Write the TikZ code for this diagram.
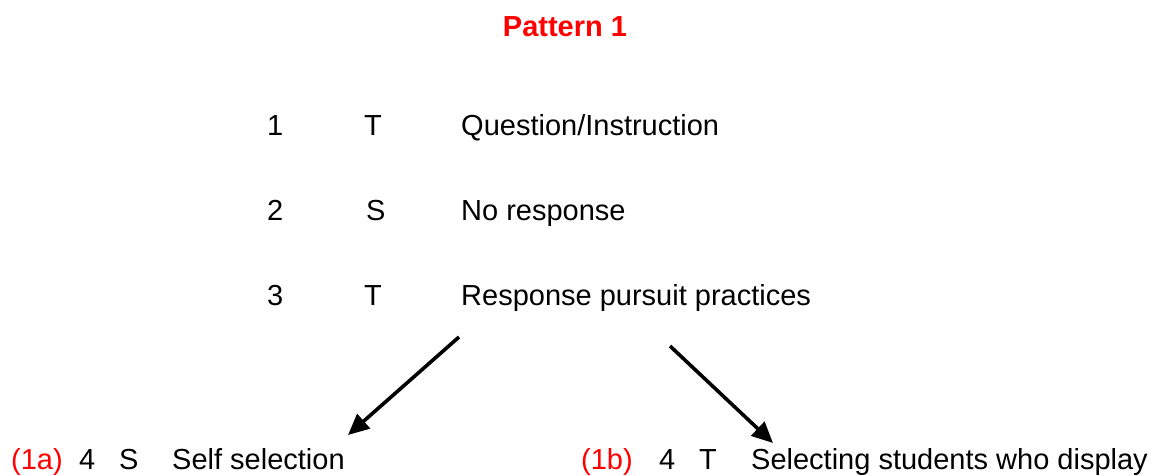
\documentclass[tikz,border=0pt]{standalone}
\usepackage{fontspec}
\setmainfont{Liberation Sans}
\usepackage{xcolor}
\usepackage{tikz}
\usetikzlibrary{positioning,arrows.meta}
\definecolor{patred}{RGB}{255,0,0}
\definecolor{patdark}{RGB}{0,0,0}

\begin{document}
\begin{tikzpicture}[
  x=1pt, y=-1pt,
  txt/.style={anchor=base west, inner sep=0pt, text=patdark,
              font=\fontsize{29}{34}\selectfont},
  tag/.style={txt, text=patred},
  head/.style={anchor=base, inner sep=0pt, text=patred,
               font=\fontsize{29}{34}\selectfont\bfseries},
  line/.style={-{Triangle[length=21pt, width=19pt]}, line width=3.6pt, draw=patdark},
]
\useasboundingbox (0,0) rectangle (1157,475);

\node[head] (title) at (565,36) {Pattern 1};

\node[txt] (n1) at (267,135) {1};
\node[txt] (w1) at (364,135) {T};
\node[txt] (t1) at (461,135) {Question/Instruction};

\node[txt] (n2) at (267,220) {2};
\node[txt] (w2) at (366,220) {S};
\node[txt] (t2) at (461,220) {No response};

\node[txt] (n3) at (267,305) {3};
\node[txt] (w3) at (364,305) {T};
\node[txt] (t3) at (461,305) {Response pursuit practices};

% the two branches
\node[tag] (taga) at (11,469) {(1a)};
\node[txt] (na) at (79,469) {4};
\node[txt] (wa) at (119,469) {S};
\node[txt] (ta) at (172,469) {Self selection};

\node[tag] (tagb) at (581,469) {(1b)};
\node[txt] (nb) at (659,469) {4};
\node[txt] (wb) at (699,469) {T};
\node[txt] (tb) at (751,469) {Selecting students who display};

\coordinate (fromA) at (459,337);
\coordinate (toA) at (348,435);
\coordinate (fromB) at (670,346);
\coordinate (toB) at (773,443);

\draw[line] (fromA) -- (toA);
\draw[line] (fromB) -- (toB);
\end{tikzpicture}
\end{document}
